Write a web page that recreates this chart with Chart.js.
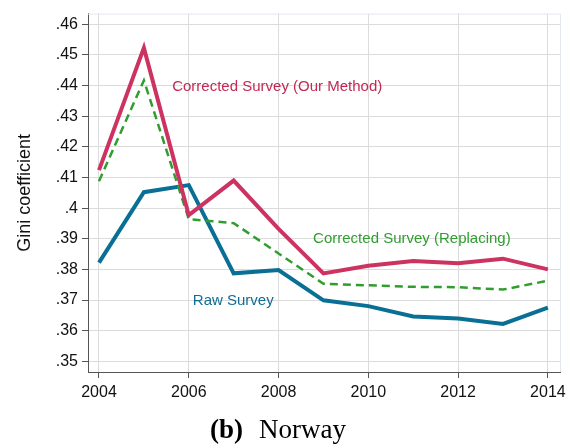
<!DOCTYPE html>
<html>
<head>
<meta charset="utf-8">
<script src="https://cdn.jsdelivr.net/npm/chart.js@4/dist/chart.umd.min.js"></script>
<style>
  html, body { margin: 0; padding: 0; background: #ffffff; }
  #wrap { width: 578px; height: 448px; }
</style>
</head>
<body>
<div id="wrap"><canvas id="c" width="578" height="448"></canvas></div>
<script>
// ---- data ----
const years = [2004, 2005, 2006, 2007, 2008, 2009, 2010, 2011, 2012, 2013, 2014];
const ourMethod = [0.4124, 0.4523, 0.3977, 0.4090, 0.3932, 0.3787, 0.3812, 0.3827, 0.3820, 0.3835, 0.3800];
const replacing = [0.4088, 0.4417, 0.3964, 0.3951, 0.3852, 0.3753, 0.3748, 0.3743, 0.3742, 0.3734, 0.3763];
const rawSurvey = [0.3822, 0.4052, 0.4075, 0.3787, 0.3798, 0.3699, 0.3680, 0.3646, 0.3640, 0.3622, 0.3675];
const yTicks = [0.35, 0.36, 0.37, 0.38, 0.39, 0.40, 0.41, 0.42, 0.43, 0.44, 0.45, 0.46];
const xTicks = [2004, 2006, 2008, 2010, 2012, 2014];
const seriesNames = ['Corrected Survey (Our Method)', 'Corrected Survey (Replacing)', 'Raw Survey'];
const yTitle = 'Gini coefficient';
const captionBold = '(b)';
const captionText = 'Norway';

const RED = '#cc3360';
const GREEN = '#2f9e2f';
const BLUE = '#0a6f94';

const toPts = (vals) => years.map((y, i) => ({ x: y, y: vals[i] }));

// in-plot labels, anchored in data units (left edge, vertical middle)
const inlineLabels = [
  { text: seriesNames[0], x: 2005.63, y: 0.4397, color: '#c02a55' },
  { text: seriesNames[1], x: 2008.77, y: 0.3899, color: '#2f9e2f' },
  { text: seriesNames[2], x: 2006.09, y: 0.3696, color: '#0e6d92' }
];

const decorPlugin = {
  id: 'decor',
  beforeDatasetsDraw(chart) {
    const { ctx, chartArea: a } = chart;
    ctx.save();
    ctx.strokeStyle = '#e3e8ee';
    ctx.lineWidth = 1;
    ctx.beginPath();
    ctx.moveTo(a.left, a.top + 0.5);
    ctx.lineTo(a.right + 0.5, a.top + 0.5);
    ctx.lineTo(a.right + 0.5, a.bottom);
    ctx.stroke();
    ctx.restore();
  },
  afterDatasetsDraw(chart) {
    const { ctx } = chart;
    const xs = chart.scales.x, ys = chart.scales.y;
    ctx.save();
    ctx.font = '15px "Liberation Sans", Arial, sans-serif';
    ctx.textAlign = 'left';
    ctx.textBaseline = 'middle';
    inlineLabels.forEach(l => {
      ctx.fillStyle = l.color;
      ctx.fillText(l.text, xs.getPixelForValue(l.x), ys.getPixelForValue(l.y));
    });
    ctx.restore();
  },
  afterDraw(chart) {
    const { ctx } = chart;
    ctx.save();
    ctx.fillStyle = '#000000';
    ctx.textBaseline = 'alphabetic';
    const fb = 'bold 27px "Liberation Serif", "DejaVu Serif", serif';
    const fn = '27px "Liberation Serif", "DejaVu Serif", serif';
    const gap = 16;
    ctx.font = fb; const w1 = ctx.measureText(captionBold).width;
    ctx.font = fn; const w2 = ctx.measureText(captionText).width;
    const cx = 278, by = 438;
    const x0 = cx - (w1 + w2 + gap) / 2;
    ctx.font = fb; ctx.fillText(captionBold, x0, by);
    ctx.font = fn; ctx.fillText(captionText, x0 + w1 + gap, by);
    ctx.restore();
  }
};

new Chart(document.getElementById('c'), {
  type: 'line',
  data: {
    datasets: [
      { label: seriesNames[0], data: toPts(ourMethod), borderColor: RED, borderWidth: 4, pointRadius: 0, tension: 0, fill: false, order: 1 },
      { label: seriesNames[1], data: toPts(replacing), borderColor: GREEN, borderWidth: 2.5, borderDash: [8, 5], pointRadius: 0, tension: 0, fill: false, order: 2 },
      { label: seriesNames[2], data: toPts(rawSurvey), borderColor: BLUE, borderWidth: 4, pointRadius: 0, tension: 0, fill: false, order: 3 }
    ]
  },
  options: {
    responsive: false,
    animation: false,
    devicePixelRatio: 1,
    layout: { padding: { left: 0, right: 18, top: 8, bottom: 46 } },
    plugins: { legend: { display: false }, tooltip: { enabled: false }, title: { display: false } },
    scales: {
      x: {
        type: 'linear',
        min: 2003.755,
        max: 2014.27,
        afterBuildTicks: (s) => { s.ticks = xTicks.map(v => ({ value: v })); },
        afterFit: (s) => { s.height = 30; },
        ticks: {
          callback: (v) => String(v),
          color: '#111111',
          font: { family: '"Liberation Sans", Arial, sans-serif', size: 16 },
          padding: 5,
          maxRotation: 0,
          autoSkip: false
        },
        grid: { color: '#dcdcdc', lineWidth: 1, tickColor: '#555555', tickLength: 6, drawOnChartArea: true },
        border: { display: true, color: '#555555', width: 1 }
      },
      y: {
        type: 'linear',
        min: 0.3465,
        max: 0.4635,
        afterBuildTicks: (s) => { s.ticks = yTicks.map(v => ({ value: v })); },
        afterFit: (s) => { s.width = 88; },
        ticks: {
          callback: (v) => String(Number(v.toFixed(2))).replace(/^0/, ''),
          color: '#111111',
          font: { family: '"Liberation Sans", Arial, sans-serif', size: 16 },
          padding: 4,
          autoSkip: false
        },
        title: {
          display: true,
          text: yTitle,
          color: '#111111',
          font: { family: '"Liberation Sans", Arial, sans-serif', size: 18 },
          padding: { top: 14, bottom: 0 }
        },
        grid: { color: '#dcdcdc', lineWidth: 1, tickColor: '#555555', tickLength: 6 },
        border: { display: true, color: '#555555', width: 1 }
      }
    }
  },
  plugins: [decorPlugin]
});
</script>
</body>
</html>
